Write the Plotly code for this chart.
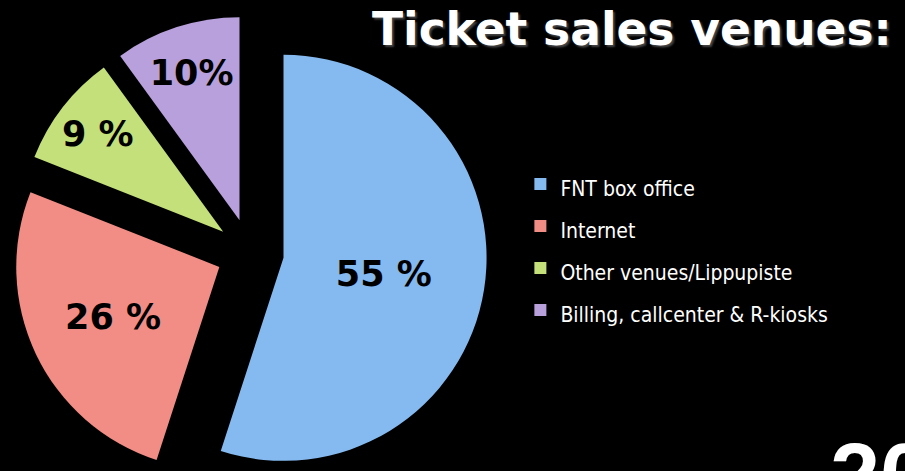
import plotly.graph_objects as go

labels = ["FNT box office", "Internet", "Other venues/Lippupiste", "Billing, callcenter & R-kiosks"]
values = [55, 26, 9, 10]
slice_text = ["55 %", "26 %", "9 %", "10%"]
colors = ["#84BAF0", "#F28D86", "#C4E07A", "#B8A0DC"]
pulls = [0.167, 0.167, 0.167, 0.167]

H = 505  # figure is taller than the 471px window; the bottom is cropped like the reference

legend_names = ['<span style="font-size:21px;font-stretch:condensed">%s</span>' % s for s in labels]

fig = go.Figure(go.Pie(
    labels=legend_names,
    values=values,
    text=slice_text,
    textinfo="text",
    textposition="inside",
    insidetextorientation="horizontal",
    sort=False,
    direction="clockwise",
    rotation=0,
    pull=pulls,
    marker=dict(colors=colors, line=dict(width=0)),
    textfont=dict(family="DejaVu Sans, sans-serif", size=35, color="black", weight="bold"),
    domain=dict(x=[0.0144, 0.5381], y=[0, 1]),
    hoverinfo="skip",
))

fig.update_layout(
    width=905, height=H,
    margin=dict(l=0, r=0, t=0, b=0),
    paper_bgcolor="black", plot_bgcolor="black",
    uniformtext=dict(minsize=35, mode="show"),
    title=dict(text="Ticket sales venues:", x=372/905, xanchor="left", y=1 - 13/H, yanchor="top",
               yref="container",
               font=dict(family="DejaVu Sans, sans-serif", size=45.5, color="white",
                         weight="bold", shadow="2px 2px 2px #444")),
    legend=dict(x=0.575, xanchor="left", y=1 - 247/H, yanchor="middle",
                font=dict(family="DejaVu Sans Condensed, DejaVu Sans, sans-serif", size=30,
                          color="white"),
                bgcolor="rgba(0,0,0,0)"),
    annotations=[dict(text="20", x=828/905, xref="paper", xanchor="left",
                      y=1 - 424/H, yref="paper", yanchor="top", showarrow=False,
                      font=dict(family="Liberation Sans, Arial, sans-serif", size=90,
                                color="white", weight="bold"))],
)

fig.write_html(
    "out.html",
    config={"displayModeBar": False},
    post_script="document.body.style.margin='0';"
                "document.body.style.overflow='hidden';"
                "document.documentElement.style.overflow='hidden';",
)
